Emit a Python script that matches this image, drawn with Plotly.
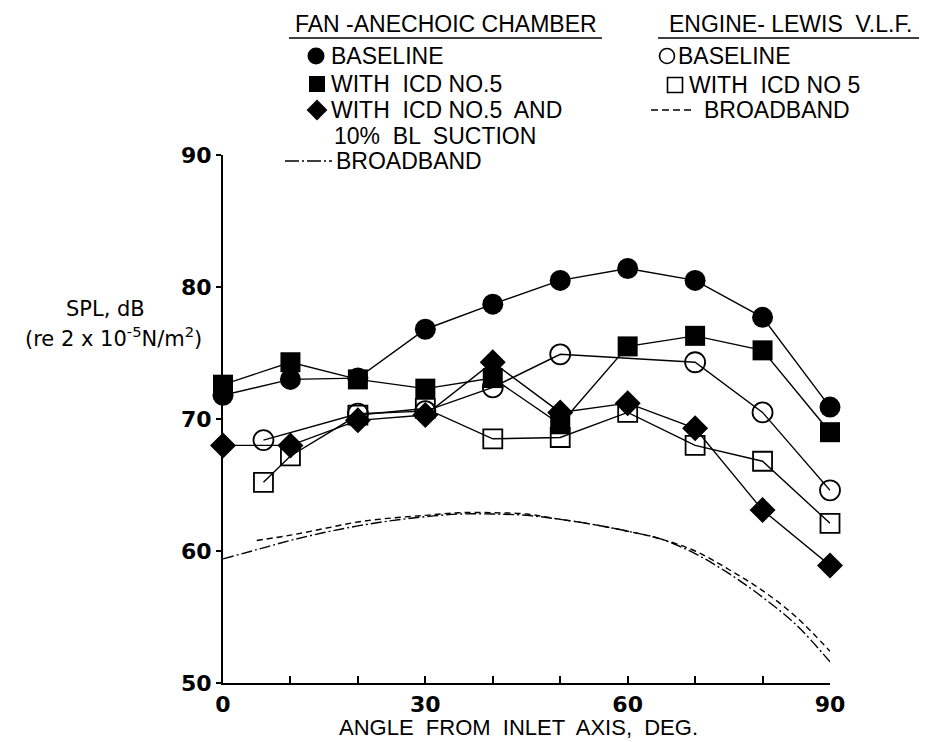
import plotly.graph_objects as go

# ---------------- data ----------------
fan_angles = [0, 10, 20, 30, 40, 50, 60, 70, 80, 90]
fan_baseline = [71.8, 73.0, 73.1, 76.8, 78.7, 80.5, 81.4, 80.5, 77.7, 70.9]
fan_icd5 = [72.6, 74.3, 73.0, 72.3, 73.1, 69.6, 75.5, 76.3, 75.2, 69.0]
fan_icd5_bl = [68.0, 68.0, 69.9, 70.3, 74.3, 70.5, 71.2, 69.3, 63.1, 58.9]

eng_base_angles = [6, 20, 30, 40, 50, 70, 80, 90]
eng_baseline = [68.4, 70.4, 70.6, 72.4, 74.9, 74.3, 70.5, 64.6]
eng_icd_angles = [6, 10, 20, 30, 40, 50, 60, 70, 80, 90]
eng_icd5 = [65.2, 67.2, 70.3, 70.8, 68.5, 68.6, 70.5, 68.0, 66.8, 62.1]

bb_fan_angles = [0, 5, 10, 15, 20, 25, 30, 35, 40, 45, 50, 55, 60, 65, 70, 75, 80, 85, 90]
bb_fan = [59.4, 60.1, 60.8, 61.4, 61.9, 62.3, 62.6, 62.8, 62.8, 62.7, 62.4, 62.0,
          61.5, 60.9, 59.8, 58.3, 56.5, 54.4, 51.6]
bb_eng_angles = [5, 10, 15, 20, 25, 30, 35, 40, 45, 50, 55, 60, 65, 70, 75, 80, 85, 90]
bb_eng = [60.8, 61.2, 61.7, 62.2, 62.5, 62.7, 62.9, 62.9, 62.8, 62.4, 62.0, 61.5,
          60.9, 60.0, 58.6, 57.0, 55.0, 52.4]

x_tickvals = [0, 30, 60, 90]
x_ticktext = ["0", "30", "60", "90"]
x_minor_dtick = 10
y_tickvals = [50, 60, 70, 80, 90]
y_ticktext = ["50", "60", "70", "80", "90"]

# ---------------- layout helpers ----------------
W, H = 927, 742
def px(x):
    return x / W
def py(y):
    return 1 - y / H

BLACK = "black"
CLEAR = "rgba(0,0,0,0)"
LW = 1.4
DASH_ENG = "6px,4px"
DASH_FAN = "11px,3px,2px,3px"

fig = go.Figure()

def add_series(xs, ys, symbol, size, filled, name):
    fig.add_trace(go.Scatter(
        x=xs, y=ys, mode="lines+markers", name=name, showlegend=False,
        cliponaxis=False,
        line=dict(color=BLACK, width=LW),
        marker=dict(symbol=symbol, size=size,
                    color=BLACK if filled else CLEAR,
                    line=dict(color=BLACK, width=0 if filled else 1.8)),
        xaxis="x", yaxis="y"))

fig.add_trace(go.Scatter(x=bb_fan_angles, y=bb_fan, mode="lines", showlegend=False,
                         line=dict(color=BLACK, width=1.4, dash=DASH_FAN, shape="spline"),
                         cliponaxis=False))
fig.add_trace(go.Scatter(x=bb_eng_angles, y=bb_eng, mode="lines", showlegend=False,
                         line=dict(color=BLACK, width=1.4, dash=DASH_ENG, shape="spline"),
                         cliponaxis=False))

add_series(eng_icd_angles, eng_icd5, "square", 19, False, "Engine with ICD No 5")
add_series(eng_base_angles, eng_baseline, "circle", 20, False, "Engine baseline")
add_series(fan_angles, fan_baseline, "circle", 21, True, "Fan baseline")
add_series(fan_angles, fan_icd5, "square", 20, True, "Fan with ICD No.5")
add_series(fan_angles, fan_icd5_bl, "diamond", 20, True, "Fan with ICD No.5 and BL suction")

# ---------------- legend keys (pixel overlay axes) ----------------
leg_fill_x = [308, 309, 309]
leg_fill_y = [48, 76, 102]
leg_fill_sym = ["circle", "square", "diamond"]
leg_fill_size = [17, 16, 16]
for x, y, s, sz in zip(leg_fill_x, leg_fill_y, leg_fill_sym, leg_fill_size):
    fig.add_trace(go.Scatter(x=[x], y=[y], mode="markers", showlegend=False, cliponaxis=False,
                             marker=dict(symbol=s, size=sz, color=BLACK, line=dict(width=0)),
                             xaxis="x2", yaxis="y2"))
leg_open_x = [659, 667]
leg_open_y = [48, 77]
leg_open_sym = ["circle", "square"]
for x, y, s in zip(leg_open_x, leg_open_y, leg_open_sym):
    fig.add_trace(go.Scatter(x=[x], y=[y], mode="markers", showlegend=False, cliponaxis=False,
                             marker=dict(symbol=s, size=15, color=CLEAR,
                                         line=dict(color=BLACK, width=1.6)),
                             xaxis="x2", yaxis="y2"))
fig.add_trace(go.Scatter(x=[277, 324], y=[153, 153], mode="lines", showlegend=False,
                         line=dict(color=BLACK, width=1.6, dash="14px,3px,2px,3px"),
                         xaxis="x2", yaxis="y2"))
fig.add_trace(go.Scatter(x=[643, 686], y=[102, 102], mode="lines", showlegend=False,
                         line=dict(color=BLACK, width=1.6, dash="7px,4px"),
                         xaxis="x2", yaxis="y2"))
# underlines of the legend headers
fig.add_trace(go.Scatter(x=[281, 594], y=[30, 30], mode="lines", showlegend=False,
                         line=dict(color=BLACK, width=1.6), xaxis="x2", yaxis="y2"))
fig.add_trace(go.Scatter(x=[650, 915], y=[30, 30], mode="lines", showlegend=False,
                         line=dict(color=BLACK, width=1.6), xaxis="x2", yaxis="y2"))

TXT = dict(family="Liberation Sans, Arial, sans-serif", size=23, color=BLACK)
HDR = dict(family="Liberation Sans, Arial, sans-serif", size=23, color=BLACK)
GEO = dict(family="DejaVu Sans, sans-serif", size=21, color=BLACK)
XT = dict(family="Liberation Sans, Arial, sans-serif", size=22, color=BLACK)

annotations = []
def label(text, x, y, font, xanchor="left"):
    annotations.append(dict(text=text, x=px(x), y=py(y), xref="paper", yref="paper",
                            xanchor=xanchor, yanchor="middle", showarrow=False, font=font))

label("FAN -ANECHOIC CHAMBER", 438, 16, HDR, "center")
label("ENGINE- LEWIS  V.L.F.", 782, 16, HDR, "center")
label("BASELINE", 321, 48, TXT)
label("WITH  ICD NO.5", 321, 76, TXT)
label("WITH  ICD NO.5  AND", 321, 102, TXT)
label("10%  BL  SUCTION", 324, 128, TXT)
label("BROADBAND", 326, 153, TXT)
label("BASELINE", 668, 48, TXT)
label("WITH  ICD NO 5", 679, 77, TXT)
label("BROADBAND", 694, 102, TXT)
label("SPL, dB", 97, 301, GEO, "center")
label("(re 2 x 10<sup>-5</sup>N/m<sup>2</sup>)", 105, 329, GEO, "center")
label("ANGLE  FROM  INLET  AXIS,  DEG.", 510, 719, XT, "center")

TICKFONT = dict(family="DejaVu Sans, sans-serif", size=22, color=BLACK, weight="bold")

fig.update_layout(
    width=W, height=H,
    margin=dict(l=0, r=0, t=0, b=0),
    paper_bgcolor="white", plot_bgcolor=CLEAR,
    showlegend=False,
    annotations=annotations,
    xaxis=dict(domain=[px(215), px(822)], range=[0, 90], anchor="y",
               showgrid=False, zeroline=False, showline=True, linecolor=BLACK, linewidth=2.2,
               tickmode="array", tickvals=x_tickvals, ticktext=x_ticktext,
               ticks="inside", ticklen=7, tickwidth=1.6, tickcolor=BLACK,
               minor=dict(dtick=x_minor_dtick, tick0=0, ticks="inside", ticklen=7,
                          tickwidth=1.6, tickcolor=BLACK, showgrid=False),
               tickfont=TICKFONT, automargin=False),
    yaxis=dict(domain=[py(675), py(147)], range=[50, 90], anchor="x",
               showgrid=False, zeroline=False, showline=True, linecolor=BLACK, linewidth=2.2,
               tickmode="array", tickvals=y_tickvals, ticktext=y_ticktext,
               ticks="outside", ticklen=5, tickwidth=1.6, tickcolor=BLACK,
               tickfont=TICKFONT, automargin=False),
    xaxis2=dict(domain=[0, 1], range=[0, W], anchor="y2", visible=False, fixedrange=True),
    yaxis2=dict(domain=[0, 1], range=[H, 0], anchor="x2", visible=False, fixedrange=True),
)

fig.write_html("out.html")
